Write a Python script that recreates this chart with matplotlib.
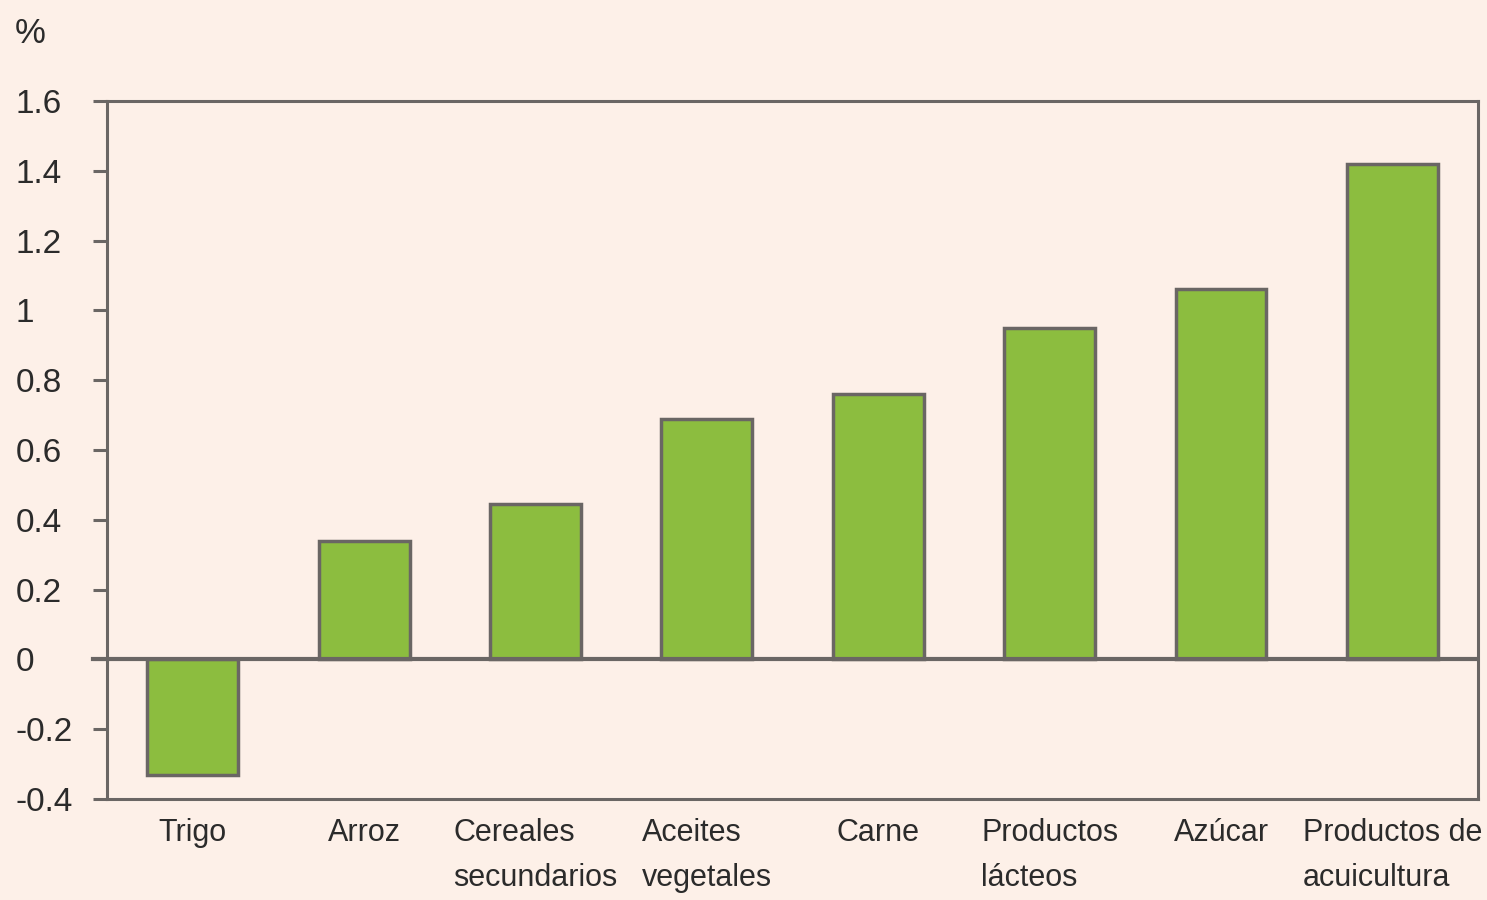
import matplotlib.pyplot as plt

# datos: variacion anual de precios (%)
categorias = ["Trigo", "Arroz", "Cereales\nsecundarios", "Aceites\nvegetales",
              "Carne", "Productos\nlácteos", "Azúcar", "Productos de\nacuicultura"]
valores = [-0.33, 0.34, 0.445, 0.69, 0.76, 0.95, 1.06, 1.42]
yticks = [-0.4, -0.2, 0, 0.2, 0.4, 0.6, 0.8, 1, 1.2, 1.4, 1.6]
ytick_labels = ["-0.4", "-0.2", "0", "0.2", "0.4", "0.6", "0.8", "1", "1.2", "1.4", "1.6"]

plt.rcParams['font.family'] = ["Liberation Sans", "DejaVu Sans"]

bg = "#fdf0e8"
gris = "#6a6664"
verde = "#8cbd3f"
texto = "#2b2b2b"

fig = plt.figure(figsize=(14.87, 9.0), dpi=100, facecolor=bg)
ax = fig.add_axes([0.072, 0.1122, 0.922, 0.7756])
ax.set_facecolor(bg)

x = range(len(categorias))
ax.bar(x, valores, width=0.53, color=verde, edgecolor=gris, linewidth=2.5, zorder=2)
ax.axhline(0, color=gris, linewidth=3, zorder=3)

ax.set_xlim(-0.5, len(categorias) - 0.5)
ax.set_ylim(-0.4, 1.6)
ax.set_yticks(yticks)
ax.set_yticklabels(ytick_labels, fontsize=24, color=texto, ha="left")
ax.tick_params(axis="y", length=10, width=2.2, color=gris, pad=56)
ax.set_xticks(list(x))
ax.set_xticklabels(categorias, fontsize=22, color=texto, multialignment="left",
                   linespacing=1.65)
ax.tick_params(axis="x", length=0, pad=14)

for s in ax.spines.values():
    s.set_color(gris)
    s.set_linewidth(2.2)

# la marca del cero continua la linea horizontal
ax.plot([-0.5 - 0.082, -0.5], [0, 0], color=gris, linewidth=3, clip_on=False, zorder=3)

fig.text(0.01, 0.963, "%", fontsize=25, color=texto, va="center")

fig.savefig("out.png", dpi=100, facecolor=bg)
